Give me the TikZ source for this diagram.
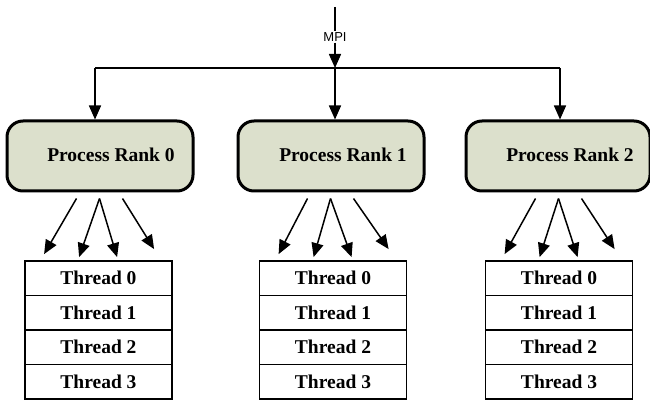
\documentclass[tikz,border=0pt]{standalone}
\usepackage{fontspec}
\setmainfont{Liberation Serif}
\newfontfamily\mpifont{Liberation Sans}
\usetikzlibrary{arrows.meta,calc}
\definecolor{procfill}{RGB}{220,224,204}
\tikzset{
  procbox/.style={draw=black, line width=3pt, fill=procfill, rounded corners=16pt,
    minimum width=186pt, minimum height=70pt, inner sep=0pt},
  proclabel/.style={font=\fontsize{19.5}{22}\selectfont\bfseries, inner sep=0pt},
  threadbox/.style={draw=black, line width=1.8pt, fill=white, minimum width=147pt,
    minimum height=34.5pt, inner sep=0pt, font=\fontsize{19.5}{22}\selectfont\bfseries},
  arr/.style={line width=1.5pt, -{Triangle[length=14pt,width=12pt]}},
  conn/.style={line width=1.5pt}
}
\begin{document}
\begin{tikzpicture}[x=1pt,y=-1pt]
\useasboundingbox (0,0) rectangle (650,403);
% MPI
\coordinate (top) at (335,7);
\node[font=\mpifont\fontsize{13}{14}\selectfont, inner sep=1pt, fill=white] (mpi) at (335,37) {MPI};
\coordinate (jc) at (335,68);
\coordinate (jl) at (95,68);
\coordinate (jr) at (560,68);
% process boxes
\node[procbox] (p0) at (100,156) {};
\node[procbox] (p1) at (331,156) {};
\node[procbox, minimum width=184pt] (p2) at (558,156) {};
\node[proclabel] (l0) at (111,155) {Process Rank 0};
\node[proclabel] (l1) at (343,155) {Process Rank 1};
\node[proclabel] (l2) at (570,155) {Process Rank 2};
% top connectors
\draw[conn] (top) -- (mpi.north);
\draw[arr] (mpi.south) -- (jc);
\draw[conn] (jl) -- (jr);
\draw[arr] (jl) -- (jl |- p0.north);
\draw[arr] (jc) -- (jc |- p1.north);
\draw[arr] (jr) -- (jr |- p2.north);
% thread stacks
\foreach \b/\cx in {0/98.5,1/333,2/559}{
  \foreach \t/\cy in {0/278.25,1/312.75,2/347.25,3/381.75}{
    \node[threadbox] (t\b\t) at (\cx,\cy) {Thread \t};
  }
}
% fan-out arrows
\foreach \b in {0,1,2}{
  \coordinate (s\b a) at ($(p\b.south west)+(71,6)$);
  \coordinate (s\b b) at ($(p\b.south west)+(94,6)$);
  \coordinate (s\b c) at ($(p\b.south west)+(117,6)$);
  \coordinate (e\b a) at ($(t\b0.north west)+(20,-6)$);
  \coordinate (e\b b) at ($(t\b0.north west)+(55,-3)$);
  \coordinate (e\b c) at ($(t\b0.north west)+(93,-3)$);
  \coordinate (e\b d) at ($(t\b0.north west)+(130,-11)$);
  \draw[arr] (s\b a) -- (e\b a);
  \draw[arr] (s\b b) -- (e\b b);
  \draw[arr] (s\b b) -- (e\b c);
  \draw[arr] (s\b c) -- (e\b d);
}
\end{tikzpicture}
\end{document}
